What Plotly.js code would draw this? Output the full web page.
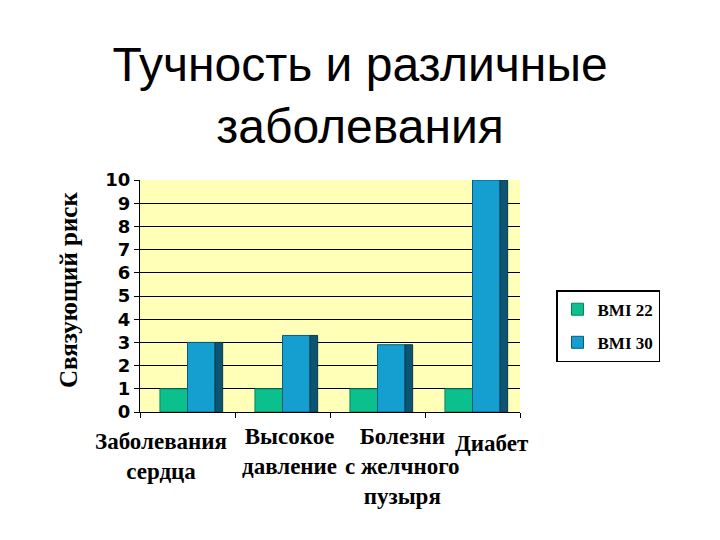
<!DOCTYPE html>
<html>
<head>
<meta charset="utf-8">
<script src="https://cdn.plot.ly/plotly-3.0.1.min.js"></script>
<style>html,body{margin:0;padding:0;background:#fff;}#chart{width:720px;height:540px;}</style>
</head>
<body>
<div id="chart"></div>
<script>
var categories = ["Заболевания сердца", "Высокое давление", "Болезни с желчного пузыря", "Диабет"];
var categoryLabels = ["Заболевания<br>сердца", "Высокое<br>давление", "Болезни<br>с желчного<br>пузыря", "Диабет"];
var seriesNames = ["BMI 22", "BMI 30"];
var bmi22 = [1, 1, 1, 1];
var bmi30 = [3, 3.3, 2.9, 10];
var yTicks = [0, 1, 2, 3, 4, 5, 6, 7, 8, 9, 10];

var labelShift = [-27, 7, 25, 19];
var labelYShift = [-15, -10, -10, -17];

var bw = 0.29;
var traces = [
  {type: "bar", name: seriesNames[0], x: categories, y: bmi22, legendgroup: "a",
   offset: -bw, width: bw,
   marker: {color: "#0cc08e", line: {color: "#08805e", width: 1}}},
  {type: "bar", name: seriesNames[1], x: categories, y: bmi30, legendgroup: "b",
   offset: 0, width: bw,
   marker: {color: "#159fd0", line: {color: "#0b5a78", width: 1}}},
  {type: "bar", name: seriesNames[1] + " side", x: categories, y: bmi30, showlegend: false,
   offset: bw, width: 0.08,
   marker: {color: "#0c5472", line: {color: "#083a50", width: 1}}}
];

var annotations = categories.map(function (c, i) {
  return {x: c, xref: "x", y: 0, yref: "paper", yanchor: "top", yshift: labelYShift[i],
    xshift: labelShift[i], text: categoryLabels[i], showarrow: false,
    font: {family: "Liberation Serif", size: 23, color: "#000", weight: "bold"}, align: "center"};
});
annotations.push({
  x: 0, xref: "paper", xanchor: "center", xshift: -72, y: 0.5, yref: "paper", yshift: 6,
  text: "Связующий риск", textangle: -90, showarrow: false,
  font: {family: "Liberation Serif", size: 25, color: "#000", weight: "bold"}
});

var layout = {
  width: 720, height: 540,
  paper_bgcolor: "#ffffff",
  plot_bgcolor: "#ffffb8",
  margin: {l: 140, r: 200, t: 180, b: 128},
  title: {text: "Тучность и различные<br>заболевания", x: 0.5, xanchor: "center", y: 0.85, yanchor: "top",
    font: {family: "Liberation Sans", size: 48, color: "#000"}},
  barmode: "overlay",
  xaxis: {type: "category", range: [-0.5, 3.5], showticklabels: false, showgrid: false, showline: true,
    linecolor: "#000", ticks: "outside", ticklen: 5, tickcolor: "#000", zeroline: false,
    tickson: "boundaries"},
  yaxis: {range: [0, 10], tickvals: yTicks, showgrid: true, gridcolor: "#000", gridwidth: 1,
    showline: true, linecolor: "#000", ticks: "outside", ticklen: 5, tickcolor: "#000",
    zeroline: true, zerolinecolor: "#000",
    tickfont: {family: "DejaVu Sans", size: 18, color: "#000", weight: "bold"}},
  legend: {x: 1, xref: "paper", xanchor: "left", y: 0.37, yanchor: "middle",
    bgcolor: "#fff", bordercolor: "#000", borderwidth: 1.5,
    traceorder: "grouped", tracegroupgap: 8,
    font: {family: "Liberation Serif", size: 17, color: "#000", weight: "bold"}},
  annotations: annotations,
  showlegend: true
};

Plotly.newPlot("chart", traces, layout, {staticPlot: true, displayModeBar: false}).then(function () {
  var lg = document.querySelector(".legend");
  if (lg) {
    var t = lg.getAttribute("transform");
    var m = /translate\(([-\d.]+),\s*([-\d.]+)\)/.exec(t);
    if (m) lg.setAttribute("transform", "translate(" + (parseFloat(m[1]) + 36) + "," + m[2] + ")");
  }
});
</script>
</body>
</html>
